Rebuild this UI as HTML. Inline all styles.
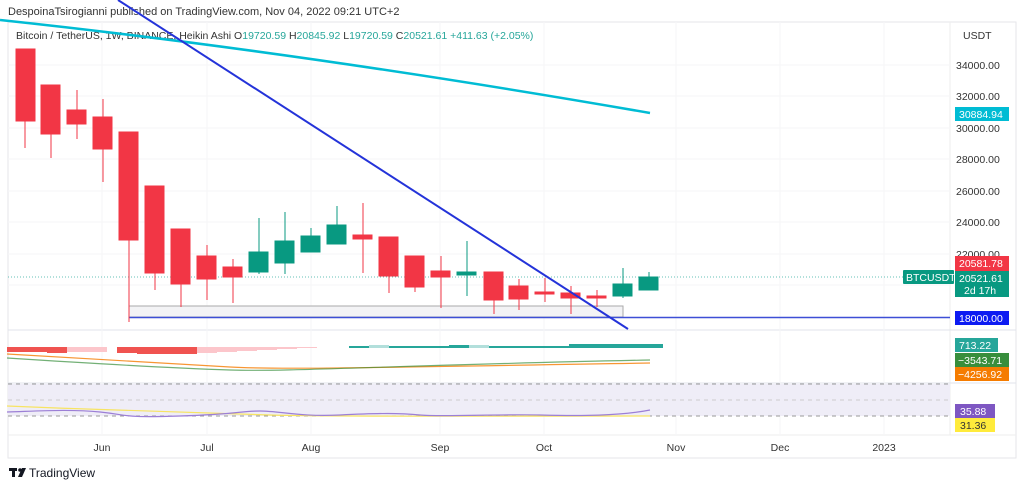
<!DOCTYPE html><html><head><style>body{margin:0;background:#fff}svg{display:block;font-family:"Liberation Sans",sans-serif}</style></head><body>
<svg width="1024" height="488" viewBox="0 0 1024 488" xmlns="http://www.w3.org/2000/svg">
<rect width="1024" height="488" fill="#fff"/>
<text x="8" y="15" font-size="11" fill="#333">DespoinaTsirogianni published on TradingView.com, Nov 04, 2022 09:21 UTC+2</text>
<rect x="8" y="22" width="1008" height="436" fill="none" stroke="#e6e6ea"/>
<line x1="950" y1="22" x2="950" y2="435" stroke="#eee"/>
<line x1="8" y1="435" x2="1016" y2="435" stroke="#eee"/>
<line x1="8" y1="330" x2="1016" y2="330" stroke="#e0e3eb"/>
<line x1="8" y1="383" x2="1016" y2="383" stroke="#e0e3eb"/>
<g stroke="#f5f5f7">
<line x1="102" y1="22" x2="102" y2="435"/><line x1="207" y1="22" x2="207" y2="435"/><line x1="311" y1="22" x2="311" y2="435"/><line x1="440" y1="22" x2="440" y2="435"/><line x1="544" y1="22" x2="544" y2="435"/><line x1="676" y1="22" x2="676" y2="435"/><line x1="780" y1="22" x2="780" y2="435"/><line x1="884" y1="22" x2="884" y2="435"/>
<line x1="8" y1="65" x2="950" y2="65"/><line x1="8" y1="96" x2="950" y2="96"/><line x1="8" y1="128" x2="950" y2="128"/><line x1="8" y1="159" x2="950" y2="159"/><line x1="8" y1="191" x2="950" y2="191"/><line x1="8" y1="222" x2="950" y2="222"/><line x1="8" y1="254" x2="950" y2="254"/><line x1="8" y1="285" x2="950" y2="285"/>
</g>
<text x="16" y="39" font-size="10.5" fill="#333">Bitcoin / TetherUS, 1W, BINANCE, Heikin Ashi  O<tspan fill="#26a69a">19720.59</tspan>  H<tspan fill="#26a69a">20845.92</tspan>  L<tspan fill="#26a69a">19720.59</tspan>  C<tspan fill="#26a69a">20521.61</tspan>  <tspan fill="#26a69a">+411.63 (+2.05%)</tspan></text>
<g font-size="10.5" fill="#333"><text x="963" y="39">USDT</text><text x="956" y="69">34000.00</text><text x="956" y="100">32000.00</text><text x="956" y="132">30000.00</text><text x="956" y="163">28000.00</text><text x="956" y="195">26000.00</text><text x="956" y="226">24000.00</text><text x="956" y="258">22000.00</text></g>
<rect x="129" y="306" width="494" height="11" fill="#f3f3f5" stroke="#aaa"/>
<line x1="8" y1="277" x2="903" y2="277" stroke="#26a69a" stroke-dasharray="1,2" opacity=".7"/>
<line x1="129" y1="317.5" x2="950" y2="317.5" stroke="#3d4fd6" stroke-width="1.5"/>
<g id="c">
<g fill="#f23645" stroke="#f23645">
<line x1="25" y1="49" x2="25" y2="148"/><rect x="16" y="49" width="19" height="72"/>
<line x1="51" y1="85" x2="51" y2="158"/><rect x="41" y="85" width="19" height="49"/>
<line x1="77" y1="90" x2="77" y2="139"/><rect x="67" y="110" width="19" height="14"/>
<line x1="103" y1="99" x2="103" y2="182"/><rect x="93" y="117" width="19" height="32"/>
<line x1="129" y1="132" x2="129" y2="322"/><rect x="119" y="132" width="19" height="108"/>
<line x1="155" y1="186" x2="155" y2="290"/><rect x="145" y="186" width="19" height="87"/>
<line x1="181" y1="229" x2="181" y2="307"/><rect x="171" y="229" width="19" height="55"/>
<line x1="207" y1="245" x2="207" y2="300"/><rect x="197" y="256" width="19" height="23"/>
<line x1="233" y1="259" x2="233" y2="303"/><rect x="223" y="267" width="19" height="10"/>
<line x1="363" y1="203" x2="363" y2="273"/><rect x="353" y="235" width="19" height="4"/>
<line x1="389" y1="237" x2="389" y2="293"/><rect x="379" y="237" width="19" height="39"/>
<line x1="415" y1="256" x2="415" y2="292"/><rect x="405" y="256" width="19" height="31"/>
<line x1="441" y1="256" x2="441" y2="308"/><rect x="431" y="271" width="19" height="6"/>
<line x1="494" y1="272" x2="494" y2="314"/><rect x="484" y="272" width="19" height="28"/>
<line x1="519" y1="279" x2="519" y2="310"/><rect x="509" y="286" width="19" height="13"/>
<line x1="545" y1="278" x2="545" y2="302"/><rect x="535" y="292" width="19" height="2"/>
<line x1="571" y1="286" x2="571" y2="314"/><rect x="561" y="293" width="19" height="5"/>
<line x1="597" y1="290" x2="597" y2="307"/><rect x="587" y="296" width="19" height="2"/>
</g>
<g fill="#089981" stroke="#089981">
<line x1="259" y1="218" x2="259" y2="274"/><rect x="249" y="252" width="19" height="20"/>
<line x1="285" y1="212" x2="285" y2="274"/><rect x="275" y="241" width="19" height="22"/>
<line x1="311" y1="228" x2="311" y2="252"/><rect x="301" y="236" width="19" height="16"/>
<line x1="337" y1="206" x2="337" y2="244"/><rect x="327" y="225" width="19" height="19"/>
<line x1="467" y1="241" x2="467" y2="296"/><rect x="457" y="272" width="19" height="3"/>
<line x1="623" y1="268" x2="623" y2="298"/><rect x="613" y="284" width="19" height="12"/>
<line x1="649" y1="272" x2="649" y2="290"/><rect x="639" y="277" width="19" height="13"/>
</g></g>
<path d="M0,20 Q300,52 650,113" fill="none" stroke="#00bcd4" stroke-width="2.5"/>
<line x1="118" y1="0" x2="628" y2="329" stroke="#2433d9" stroke-width="2"/>
<rect x="903" y="270" width="51" height="14" rx="1" fill="#089981"/><text x="906" y="281" font-size="10.5" fill="#fff">BTCUSDT</text>
<rect x="955" y="256" width="54" height="15" fill="#f23645"/><text x="959" y="267" font-size="10.5" fill="#fff">20581.78</text>
<rect x="955" y="271" width="54" height="26" fill="#089981"/><text x="959" y="282" font-size="10.5" fill="#fff">20521.61</text><text x="964" y="294" font-size="10.5" fill="#fff">2d 17h</text>
<rect x="955" y="311" width="54" height="14" fill="#0d1bf2"/><text x="959" y="322" font-size="10.5" fill="#fff">18000.00</text>
<rect x="955" y="107" width="54" height="14" fill="#00bcd4"/><text x="959" y="118" font-size="10.5" fill="#fff">30884.94</text>
<g>
<rect x="7" y="347" width="20" height="5" fill="#f05350"/><rect x="27" y="347" width="20" height="5" fill="#f05350"/><rect x="47" y="347" width="20" height="6" fill="#f05350"/><rect x="67" y="347" width="20" height="5" fill="#fcc6cb"/><rect x="87" y="347" width="20" height="5" fill="#fcc6cb"/><rect x="117" y="347" width="20" height="6" fill="#f05350"/><rect x="137" y="347" width="20" height="7" fill="#f05350"/><rect x="157" y="347" width="20" height="7" fill="#f05350"/><rect x="177" y="347" width="20" height="7" fill="#f05350"/><rect x="197" y="347" width="20" height="6" fill="#fcc6cb"/><rect x="217" y="347" width="20" height="5" fill="#fcc6cb"/><rect x="237" y="347" width="20" height="4" fill="#fcc6cb"/><rect x="257" y="347" width="20" height="3" fill="#fcc6cb"/><rect x="277" y="347" width="20" height="2" fill="#fcc6cb"/><rect x="297" y="347" width="20" height="1" fill="#fcc6cb"/>
<rect x="349" y="346" width="300" height="2" fill="#26a69a"/><rect x="369" y="345" width="20" height="3" fill="#b2dfdb"/><rect x="449" y="345" width="20" height="3" fill="#26a69a"/><rect x="469" y="345" width="20" height="3" fill="#b2dfdb"/><rect x="569" y="344" width="94" height="4" fill="#26a69a"/>
</g>
<path d="M7,354 C100,360 180,364 230,367 S400,367 650,363" fill="none" stroke="#f57c00" stroke-width="1.2" opacity=".8"/>
<path d="M7,358 C100,364 170,368 230,370 S400,365 650,360" fill="none" stroke="#388e3c" stroke-width="1.2" opacity=".7"/>
<rect x="8" y="384" width="942" height="32" fill="#efedf7"/>
<g stroke="#999" stroke-dasharray="4,4"><line x1="8" y1="384" x2="950" y2="384"/><line x1="8" y1="416" x2="950" y2="416"/></g>
<line x1="8" y1="400" x2="950" y2="400" stroke="#ccc" stroke-dasharray="4,4"/>
<path d="M7,406 C100,410 200,413 270,415 S500,416 650,416" fill="none" stroke="#f7e463" stroke-width="1.2"/>
<path d="M7,412 C40,411 70,409 100,412 S120,418 180,416 S240,411 260,411 S300,417 340,415 S400,413 420,415 S500,414 540,415 S620,416 650,410" fill="none" stroke="#9c7fd6" stroke-width="1.2"/>
<rect x="955" y="338" width="43" height="14" fill="#26a69a"/><text x="959" y="349" font-size="10.5" fill="#fff">713.22</text>
<rect x="955" y="353" width="54" height="14" fill="#388e3c"/><text x="958" y="364" font-size="10.5" fill="#fff">−3543.71</text>
<rect x="955" y="367" width="54" height="14" fill="#f57c00"/><text x="958" y="378" font-size="10.5" fill="#fff">−4256.92</text>
<rect x="955" y="404" width="40" height="14" fill="#7e57c2"/><text x="960" y="415" font-size="10.5" fill="#fff">35.88</text>
<rect x="955" y="418" width="40" height="14" fill="#ffeb3b"/><text x="960" y="429" font-size="10.5" fill="#333">31.36</text>
<g font-size="10.5" fill="#333" text-anchor="middle"><text x="102" y="451">Jun</text><text x="207" y="451">Jul</text><text x="311" y="451">Aug</text><text x="440" y="451">Sep</text><text x="544" y="451">Oct</text><text x="676" y="451">Nov</text><text x="780" y="451">Dec</text><text x="884" y="451">2023</text></g>
<g fill="#131722"><rect x="9" y="468" width="8" height="3"/><rect x="12" y="468" width="3" height="9"/><circle cx="20" cy="470" r="1.8"/><path d="M22,468 L26,468 L22,477 L18,477 Z"/></g>
<text x="29" y="477" font-size="12" fill="#131722">TradingView</text>
</svg></body></html>
